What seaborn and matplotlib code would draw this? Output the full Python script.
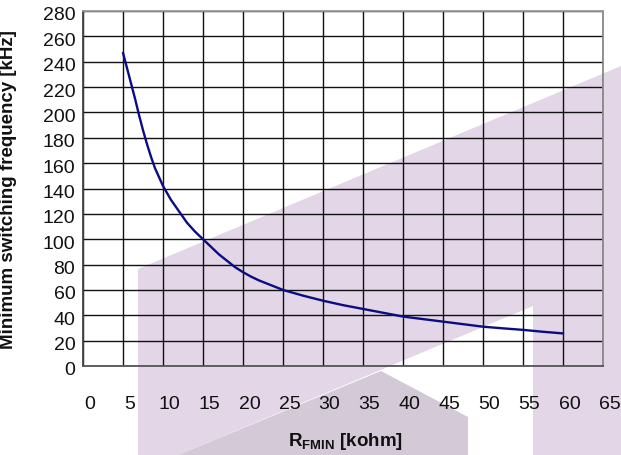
import matplotlib
matplotlib.use("Agg")
import matplotlib.pyplot as plt
import matplotlib.transforms as mtransforms
from matplotlib.patches import Polygon
import pandas as pd
import seaborn as sns

# curve
r_fmin = [5, 5.5, 6, 6.5, 7, 7.5, 8, 8.5, 9, 10, 11, 12, 13, 14, 15, 16, 17, 18, 19, 20,
          21, 22, 23, 25, 27.5, 30, 32.5, 35, 37.5, 40, 42.5, 45, 47.5, 50, 52.5, 55, 57.5, 60]
f_min = [247, 235, 223, 211, 198, 186, 175, 165, 156, 142, 131, 122, 113, 106, 100, 94, 88,
         83, 78, 74, 70.5, 67.5, 65, 60, 55.5, 51.5, 48, 45, 42, 39, 37, 35, 33, 31, 29.7,
         28.5, 27, 25.7]
x_ticks = list(range(0, 66, 5))
y_ticks = list(range(0, 281, 20))

df = pd.DataFrame({"r": r_fmin, "f": f_min})

sns.set_theme(style="white")
plt.rcParams["font.family"] = ["Liberation Sans", "DejaVu Sans"]
plt.rcParams["mathtext.fontset"] = "custom"
plt.rcParams["mathtext.rm"] = "Liberation Sans"
plt.rcParams["mathtext.bf"] = "Liberation Sans:bold"

W, H = 621, 456
fig = plt.figure(figsize=(W / 100, H / 100), dpi=100)
fig.patch.set_facecolor("white")


def px(points):
    return [(x / W, 1 - y / H) for x, y in points]


# background watermark shapes
wm_light = "#e3d6e6"
wm_dark = "#d3c9d7"
fig.patches.append(Polygon(px([(138, 270), (621, 67), (621, 456), (533, 456), (533, 307),
                               (178, 456), (138, 456)]),
                           closed=True, transform=fig.transFigure, facecolor=wm_light,
                           edgecolor="none", zorder=-10))
fig.patches.append(Polygon(px([(178, 456), (381, 372), (468, 418), (468, 456)]),
                           closed=True, transform=fig.transFigure, facecolor=wm_dark,
                           edgecolor="none", zorder=-10))

ax = fig.add_axes([83 / W, 1 - 367 / H, 520 / W, 355 / H])
ax.set_facecolor("none")
ax.set_zorder(1)

sns.lineplot(data=df, x="r", y="f", ax=ax, color="#0c0c82", linewidth=1.7, zorder=5)

ax.set_xlim(0, 65)
ax.set_ylim(0, 280)
ax.set_xticks(x_ticks)
ax.set_yticks(y_ticks)
ax.grid(True, color="#111111", linewidth=1.0)
ax.set_axisbelow(True)

for side, col in [("left", "#444444"), ("bottom", "#555555"), ("top", "#9a9a9a"), ("right", "#8a8a8a")]:
    ax.spines[side].set_visible(True)
    ax.spines[side].set_color(col)
    ax.spines[side].set_linewidth(1.3)

ax.tick_params(axis="x", direction="out", length=5, width=1, color="#444444",
               labelsize=14, pad=16, labelcolor="#111111")
ax.tick_params(axis="y", direction="out", length=5, width=1, color="#444444",
               labelsize=14, pad=0.5, labelcolor="#111111")

# Excel-style label offsets
dx = mtransforms.ScaledTranslation(6.5 / 100, 0, fig.dpi_scale_trans)
for lab in ax.get_xticklabels():
    lab.set_transform(lab.get_transform() + dx)
dy = mtransforms.ScaledTranslation(0, -2 / 100, fig.dpi_scale_trans)
for lab in ax.get_yticklabels():
    lab.set_transform(lab.get_transform() + dy)

ax.set_ylabel("Minimum switching frequency [kHz]", fontsize=13.5, fontweight="bold", color="#111111")
ax.yaxis.set_label_coords(-0.127, 0.5)
ax.set_xlabel(r"$\mathbf{R}_{\mathbf{FMIN}}$ [kohm]", fontsize=13.5, fontweight="bold", color="#111111")
ax.xaxis.set_label_coords(0.504, -0.18)

fig.savefig("out.png", dpi=100)
plt.close(fig)
